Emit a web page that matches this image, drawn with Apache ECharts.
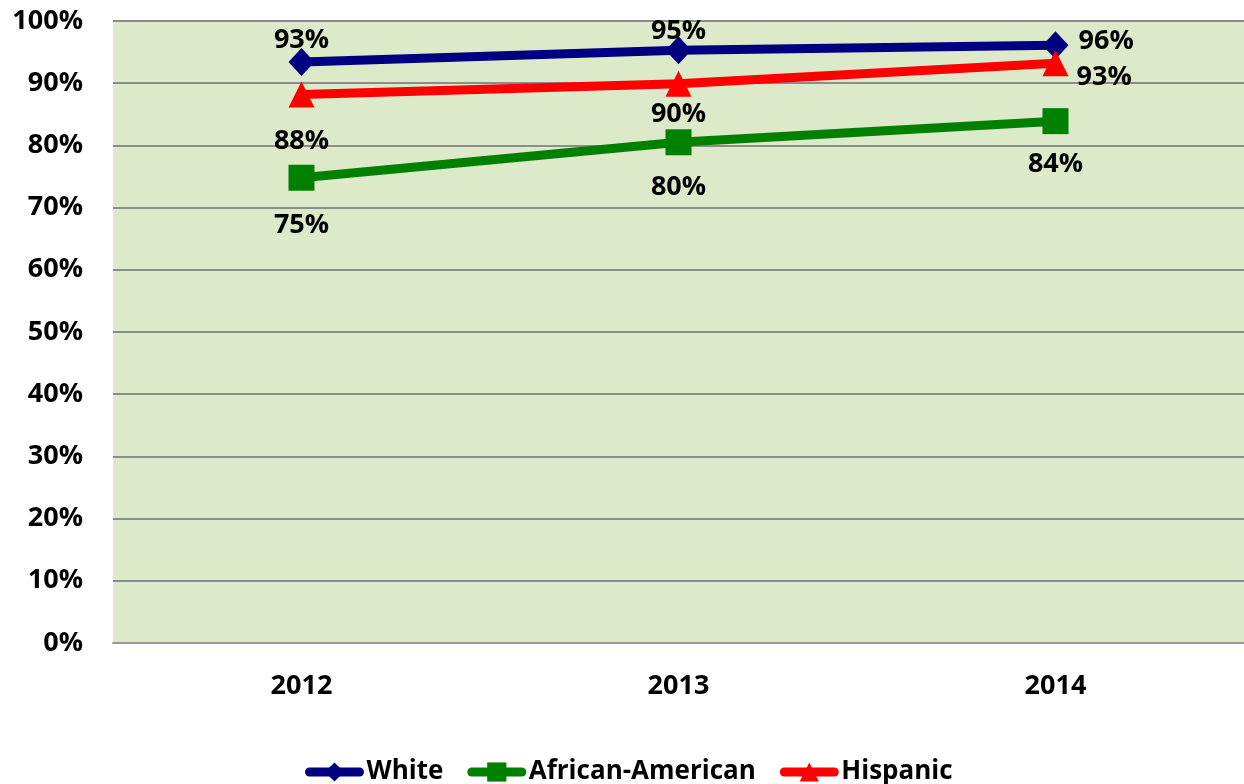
<!DOCTYPE html>
<html>
<head>
<meta charset="utf-8">
<script src="https://cdn.jsdelivr.net/npm/echarts@6/dist/echarts.min.js"></script>
<style>html,body{margin:0;padding:0;background:#fff}#c{width:1244px;height:784px}</style>
</head>
<body>
<div id="c"></div>
<script>
const categories = ['2012', '2013', '2014'];
const white = [93.4, 95.3, 96.1];
const africanAmerican = [74.8, 80.5, 83.9];
const hispanic = [88.2, 89.9, 93.2];
const whiteLabels = ['93%', '95%', '96%'];
const africanAmericanLabels = ['75%', '80%', '84%'];
const hispanicLabels = ['88%', '90%', '93%'];
const yTicks = [0, 10, 20, 30, 40, 50, 60, 70, 80, 90, 100];

const FONT = '"Open Sans", "Noto Sans", sans-serif';
const lbl = { color: '#000', fontFamily: FONT, fontWeight: 'bold', fontSize: 27 };

function mk(vals, texts, cfgs) {
  return vals.map((v, i) => ({
    value: v,
    label: Object.assign({ show: true, formatter: texts[i] }, lbl, cfgs[i])
  }));
}

const chart = echarts.init(document.getElementById('c'));
chart.setOption({
  animation: false,
  grid: { left: 113, top: 21, width: 1136, height: 622, show: true, backgroundColor: '#DDEAC9', borderWidth: 0 },
  legend: {
    bottom: -6, left: 300, itemWidth: 50, itemHeight: 24, itemGap: 24,
    lineStyle: { width: 9, cap: 'round' },
    textStyle: { color: '#000', fontFamily: FONT, fontWeight: 'bold', fontSize: 26, padding: [0, 0, 0, 2] }
  },
  xAxis: {
    type: 'category', data: categories, boundaryGap: true,
    axisLine: { show: true, lineStyle: { color: '#999', width: 2 } },
    axisTick: { show: false },
    axisLabel: { color: '#000', fontFamily: FONT, fontWeight: 'bold', fontSize: 27, margin: 30 }
  },
  yAxis: {
    type: 'value', min: 0, max: 100, interval: 10,
    axisLine: { show: false }, axisTick: { show: false },
    splitLine: { lineStyle: { color: '#8C8C8C', width: 2 } },
    axisLabel: { color: '#000', fontFamily: FONT, fontWeight: 'bold', fontSize: 27, margin: 30,
      formatter: v => v + '%' }
  },
  series: [
    {
      name: 'White', type: 'line', color: '#000080',
      symbol: 'diamond', symbolSize: [26, 28],
      lineStyle: { width: 9 },
      data: mk(white, whiteLabels, [
        { position: 'top', distance: -6 },
        { position: 'top', distance: -9 },
        { position: 'right', distance: 10, offset: [0, -4] }
      ])
    },
    {
      name: 'African-American', type: 'line', color: '#008000',
      symbol: 'rect', symbolSize: 26,
      lineStyle: { width: 9 },
      data: mk(africanAmerican, africanAmericanLabels, [
        { position: 'bottom', distance: 21 },
        { position: 'bottom', distance: 19 },
        { position: 'bottom', distance: 17 }
      ])
    },
    {
      name: 'Hispanic', type: 'line', color: '#FF0000',
      symbol: 'triangle', symbolSize: [26, 26],
      lineStyle: { width: 9 },
      data: mk(hispanic, hispanicLabels, [
        { position: 'bottom', distance: 20 },
        { position: 'bottom', distance: 4 },
        { position: 'right', distance: 8, offset: [0, 14] }
      ])
    }
  ]
});
</script>
</body>
</html>
